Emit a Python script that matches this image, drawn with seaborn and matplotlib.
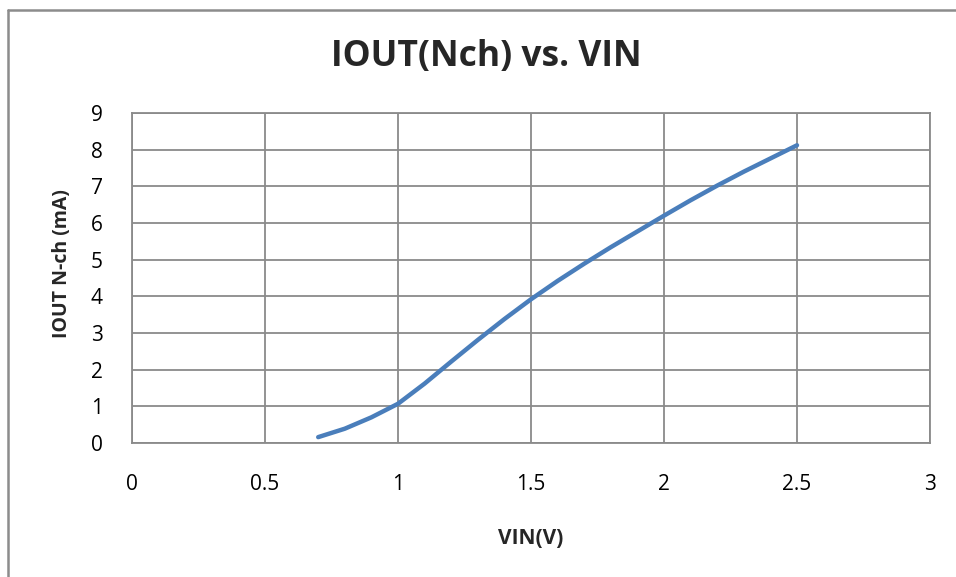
import matplotlib
matplotlib.use("Agg")
import matplotlib.pyplot as plt
import seaborn as sns
import pandas as pd

vin = [0.7, 0.8, 0.9, 1.0, 1.1, 1.2, 1.3, 1.4, 1.5, 1.6, 1.7, 1.8, 1.9, 2.0, 2.1, 2.2, 2.3, 2.4, 2.5]
iout = [0.16, 0.39, 0.70, 1.07, 1.62, 2.22, 2.81, 3.38, 3.92, 4.42, 4.89, 5.34, 5.77, 6.20, 6.62, 7.02, 7.40, 7.76, 8.12]
x_ticks = [0, 0.5, 1, 1.5, 2, 2.5, 3]
x_tick_labels = ["0", "0.5", "1", "1.5", "2", "2.5", "3"]
y_ticks = [0, 1, 2, 3, 4, 5, 6, 7, 8, 9]
title = "IOUT(Nch) vs. VIN"
xlabel = "VIN(V)"
ylabel = "IOUT N-ch (mA)"

sns.set_theme(style="white")
plt.rcParams['font.family'] = ['Open Sans', 'DejaVu Sans']

W, H = 956, 577
fig = plt.figure(figsize=(W / 100, H / 100), dpi=100)
fig.patch.set_facecolor("white")

# chart-area border (left and top visible)
border_col = "#8c8c8c"
fig.add_artist(plt.Line2D([8 / W, 8 / W], [0, 1 - 10 / H], color=border_col, lw=1.8, transform=fig.transFigure))
fig.add_artist(plt.Line2D([8 / W, 1], [1 - 10 / H, 1 - 10 / H], color=border_col, lw=1.8, transform=fig.transFigure))

ax = fig.add_axes([132 / W, 1 - 443 / H, (930 - 132) / W, (443 - 113) / H])
df = pd.DataFrame({"VIN": vin, "IOUT": iout})
sns.lineplot(data=df, x="VIN", y="IOUT", ax=ax, color="#4a7ebb", linewidth=3.2,
             solid_capstyle="round", solid_joinstyle="round", zorder=3)

ax.set_xlim(0, 3)
ax.set_ylim(0, 9)
ax.set_xticks(x_ticks)
ax.set_xticklabels(x_tick_labels)
ax.set_yticks(y_ticks)
grid_col = "#8a8a8a"
ax.grid(True, color=grid_col, linewidth=1.3)
for s in ax.spines.values():
    s.set_color(grid_col)
    s.set_linewidth(1.3)
ax.tick_params(axis="both", length=0, labelsize=15, colors="#000000")
ax.tick_params(axis="x", pad=22)
ax.tick_params(axis="y", pad=21)
ax.set_xlabel("")
ax.set_ylabel("")

fig.text(486 / W, 1 - 57 / H, title, ha="center", va="center", fontsize=25.5, fontweight="bold")
fig.text(531 / W, 1 - 538 / H, xlabel, ha="center", va="center", fontsize=15, fontweight="bold")
fig.text(62 / W, 1 - 264 / H, ylabel, ha="center", va="center", rotation=90, fontsize=14, fontweight="bold")

fig.savefig("out.png", dpi=100, facecolor="white")
